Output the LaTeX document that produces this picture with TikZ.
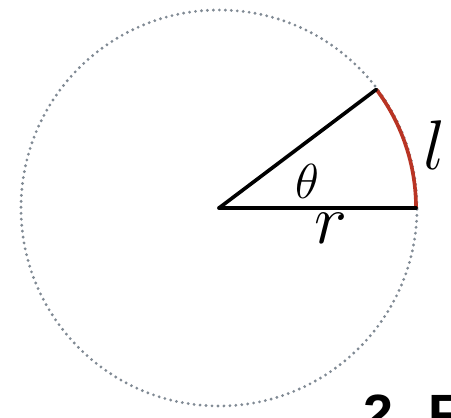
\RequirePackage{fix-cm}
\documentclass[tikz,border=0pt]{standalone}
\usepackage{fontspec}
\newfontfamily\stepfont{Liberation Sans}
\usetikzlibrary{positioning}
\definecolor{arcred}{RGB}{185,52,36}
\definecolor{dotgray}{RGB}{128,138,148}

\begin{document}
\begin{tikzpicture}[x=0.03cm, y=0.03cm,
  rim/.style={dotgray, line width=2.7pt, line cap=round, dash pattern=on 0pt off 5.1pt},
  spoke/.style={line width=3.1pt, line cap=round},
  arcline/.style={arcred, line width=3.1pt},
  biglabel/.style={inner sep=0pt, font=\fontsize{60}{60}\selectfont},
  anglabel/.style={inner sep=0pt, font=\fontsize{42}{42}\selectfont}]
  \useasboundingbox (0,0) rectangle (451,417);
  \clip (0,0) rectangle (451,417);
  % dotted circle, then the sector
  \coordinate (O) at (219,209);
  \draw[rim] (O) circle (198);
  \path (O) ++(0:197) coordinate (A);
  \path (O) ++(37:197) coordinate (B);
  \draw[arcline] (A) arc (0:37:197);
  \draw[spoke] (O) -- (A);
  \draw[spoke] (O) -- (B);
  % labels
  \node[anglabel] (theta) at (307,236) {$\theta$};
  \node[biglabel] (rlabel) at (331,189) {$r$};
  \node[biglabel] (llabel) at (435,272) {$l$};
  \node[anchor=base west, inner sep=0pt, font=\stepfont\bfseries\fontsize{46}{46}\selectfont] (steptext) at (363,-15) {2. F};
\end{tikzpicture}
\end{document}
